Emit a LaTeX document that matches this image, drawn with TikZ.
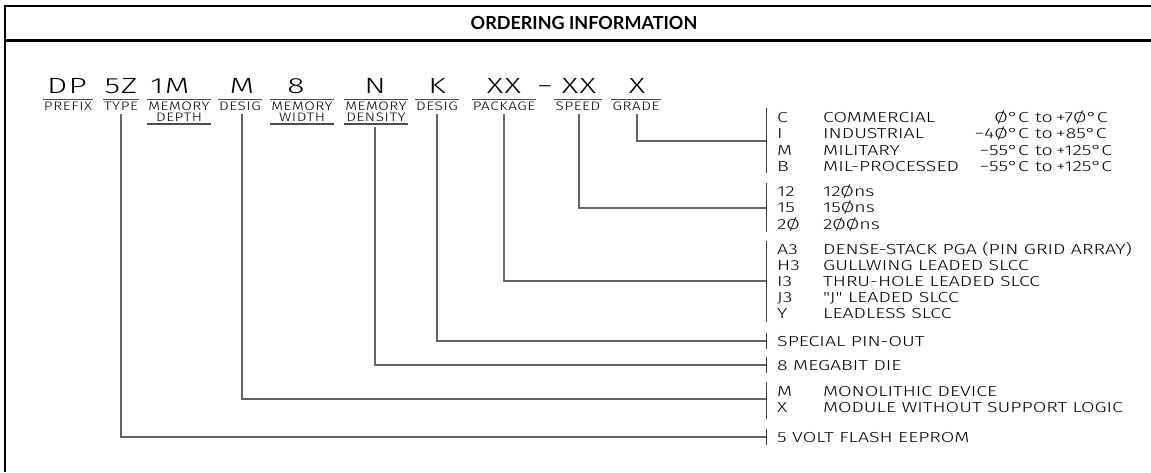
\documentclass[tikz,border=0pt]{standalone}
\usepackage{fontspec}
\IfFontExistsTF{Fira Sans Light}{\def\cadname{Fira Sans Light}}{\def\cadname{Fira Sans}}
\newfontfamily\cadA{\cadname}[FakeStretch=1.35]
\newfontfamily\cadC{\cadname}[FakeStretch=1.45,LetterSpace=6]
\newfontfamily\cadB{\cadname}[FakeStretch=1.24,LetterSpace=5]
\newfontfamily\titlefont{Lato}
\tikzset{
  code/.style={font=\cadC\fontsize{22}{22}\selectfont, inner sep=0pt, anchor=base, text=black},
  lab/.style={font=\cadB\fontsize{12.3}{12.3}\selectfont, inner sep=0pt, anchor=base, text=black},
  desc/.style={font=\cadA\fontsize{14.5}{14.5}\selectfont, inner sep=0pt, anchor=base west, text=black},
  tL/.style={desc, anchor=base east},
  rule/.style={draw=black!70, line width=1.2pt},
  conn/.style={draw=black!60, line width=1.3pt},
  brk/.style={draw=black!75, line width=1pt},
}
\begin{document}
\begin{tikzpicture}[x=1pt,y=-1pt]
\useasboundingbox (0,0) rectangle (1151,472);
\fill[white] (0,0) rectangle (1151,472);
% frame
\draw[line width=2pt] (4,6) -- (1151,6);
\draw[line width=2.5pt] (5,5) -- (5,472);
\draw[line width=3pt] (4,40) -- (1151,40);
\node[font=\titlefont\bfseries\fontsize{18}{18}\selectfont, inner sep=0pt, anchor=base] (title) at (584,29.5) {ORDERING INFORMATION};
% code letters
\node[code] (cDP) at (67,93) {DP};
\node[code] (c5Z) at (121,93) {5Z};
\node[code] (c1M) at (170,93) {1M};
\node[code] (cM) at (242,93) {M};
\node[code] (c8) at (296,93) {8};
\node[code] (cN) at (375,93) {N};
\node[code] (cK) at (437,93) {K};
\node[code] (cXXa) at (504,93) {XX};
\node[code] (cDash) at (545,93) {−};
\node[code] (cXXb) at (579,93) {XX};
\node[code] (cX) at (637,93) {X};
% labels
\node[lab] (lPrefix) at (68,110) {PREFIX};
\node[lab] (lType) at (121,110) {TYPE};
\node[lab] (lDepthA) at (179,110) {MEMORY};
\node[lab] (lDepthB) at (179,121) {DEPTH};
\node[lab] (lDesigA) at (240,110) {DESIG};
\node[lab] (lWidthA) at (302,110) {MEMORY};
\node[lab] (lWidthB) at (302,121) {WIDTH};
\node[lab] (lDensA) at (376,110) {MEMORY};
\node[lab] (lDensB) at (376,121) {DENSITY};
\node[lab] (lDesigB) at (437,110) {DESIG};
\node[lab] (lPack) at (504,110) {PACKAGE};
\node[lab] (lSpeed) at (578,110) {SPEED};
\node[lab] (lGrade) at (636,110) {GRADE};
% overlines
\foreach \n in {lPrefix,lType,lDepthA,lDesigA,lWidthA,lDensA,lDesigB,lPack,lSpeed,lGrade}{
  \draw[rule] ([xshift=-1pt]\n.west |- 0,99.5) -- ([xshift=1pt]\n.east |- 0,99.5);
}
% underlines of two-line labels
\foreach \n in {lDepthA,lWidthA,lDensA}{
  \draw[rule] ([xshift=-1pt]\n.west |- 0,124) -- ([xshift=1pt]\n.east |- 0,124);
}
% bracket coordinates
\coordinate (bGr) at (766,141);
\coordinate (bSp) at (766,208);
\coordinate (bPk) at (766,281);
\coordinate (bSP) at (766,341);
\coordinate (b8M) at (766,365);
\coordinate (bMX) at (766,399);
\coordinate (b5V) at (766,437);
% brackets
\draw[brk] (766,108) -- (766,173);
\draw[brk] (766,183) -- (766,232);
\draw[brk] (766,241) -- (766,322);
\draw[brk] (766,333) -- (766,349);
\draw[brk] (766,357) -- (766,373);
\draw[brk] (766,382) -- (766,419);
\draw[brk] (766,429) -- (766,445);
% connectors
\draw[conn] (cX |- 0,114) |- (bGr);
\draw[conn] (cXXb |- 0,114) |- (bSp);
\draw[conn] (cXXa |- 0,114) |- (bPk);
\draw[conn] (cK |- 0,114) |- (bSP);
\draw[conn] (cN |- 0,127) |- (b8M);
\draw[conn] (cM |- 0,114) |- (bMX);
\draw[conn] (c5Z |- 0,114) |- (b5V);
% grade
\node[desc] (gC) at (777,122) {C};
\node[desc] (gCd) at (823,122) {COMMERCIAL};
\node[tL] (gCt1) at (1029,122) {Ø°C};
\node[desc] (gCt2) at (1035,122) {to};
\node[desc] (gCt3) at (1056,122) {+7Ø°C};
\node[desc] (gI) at (777,138.5) {I};
\node[desc] (gId) at (823,138.5) {INDUSTRIAL};
\node[tL] (gIt1) at (1029,138.5) {−4Ø°C};
\node[desc] (gIt2) at (1035,138.5) {to};
\node[desc] (gIt3) at (1056,138.5) {+85°C};
\node[desc] (gM) at (777,155) {M};
\node[desc] (gMd) at (823,155) {MILITARY};
\node[tL] (gMt1) at (1029,155) {−55°C};
\node[desc] (gMt2) at (1035,155) {to};
\node[desc] (gMt3) at (1056,155) {+125°C};
\node[desc] (gB) at (777,171) {B};
\node[desc] (gBd) at (823,171) {MIL-PROCESSED};
\node[tL] (gBt1) at (1029,171) {−55°C};
\node[desc] (gBt2) at (1035,171) {to};
\node[desc] (gBt3) at (1056,171) {+125°C};
% speed
\node[desc] (s12) at (777,196) {12};
\node[desc] (s12d) at (823,196) {12Øns};
\node[desc] (s15) at (777,212.5) {15};
\node[desc] (s15d) at (823,212.5) {15Øns};
\node[desc] (s20) at (777,229) {2Ø};
\node[desc] (s20d) at (823,229) {2ØØns};
% package
\node[desc] (pA3) at (777,254) {A3};
\node[desc] (pA3d) at (823,254) {DENSE-STACK PGA (PIN GRID ARRAY)};
\node[desc] (pH3) at (777,270) {H3};
\node[desc] (pH3d) at (823,270) {GULLWING LEADED SLCC};
\node[desc] (pI3) at (777,286) {I3};
\node[desc] (pI3d) at (823,286) {THRU-HOLE LEADED SLCC};
\node[desc] (pJ3) at (777,302) {J3};
\node[desc] (pJ3d) at (823,302) {"J" LEADED SLCC};
\node[desc] (pY) at (777,318) {Y};
\node[desc] (pYd) at (823,318) {LEADLESS SLCC};
% single lines
\node[desc] (tSP) at (777,346) {SPECIAL PIN-OUT};
\node[desc] (t8M) at (777,370) {8 MEGABIT DIE};
\node[desc] (tM) at (777,396) {M};
\node[desc] (tMd) at (823,396) {MONOLITHIC DEVICE};
\node[desc] (tX) at (777,412) {X};
\node[desc] (tXd) at (823,412) {MODULE WITHOUT SUPPORT LOGIC};
\node[desc] (t5V) at (777,442) {5 VOLT FLASH EEPROM};
\end{tikzpicture}
\end{document}
